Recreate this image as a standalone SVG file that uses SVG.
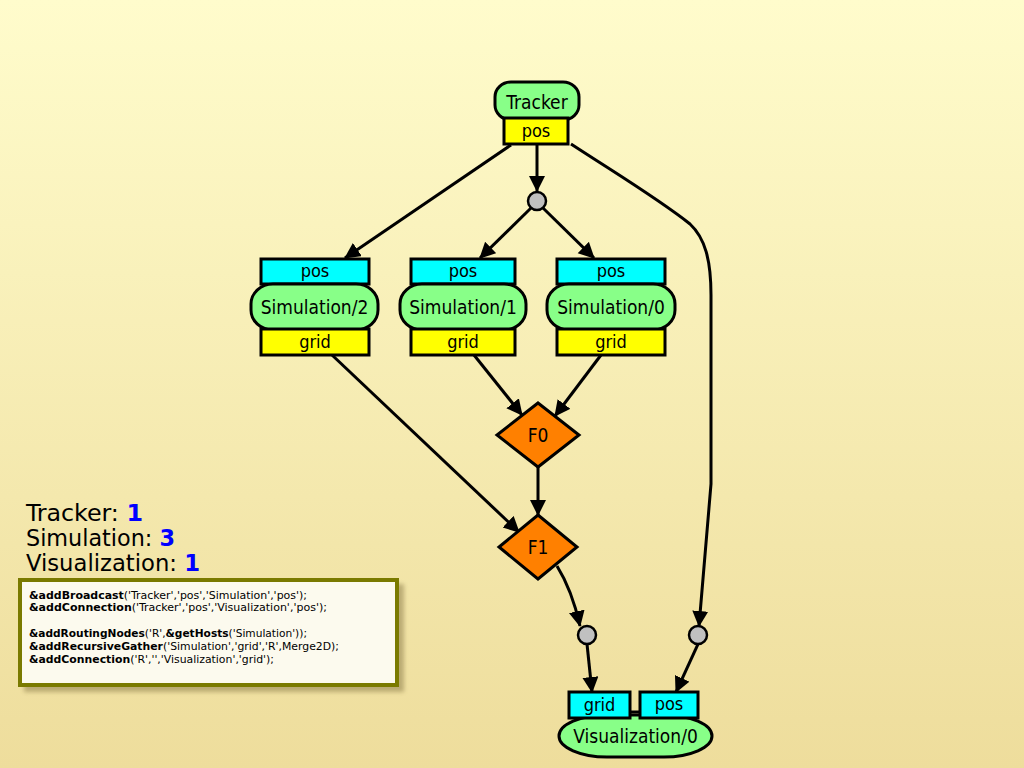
<svg xmlns="http://www.w3.org/2000/svg" width="1024" height="768" viewBox="0 0 1024 768">
<defs>
<linearGradient id="bg" x1="0" y1="0" x2="0" y2="1">
<stop offset="0" stop-color="#fffccc"/>
<stop offset="1" stop-color="#eedd9c"/>
</linearGradient>
<marker id="arr" markerUnits="userSpaceOnUse" markerWidth="18" markerHeight="18" refX="15" refY="8" orient="auto">
<path d="M0,0 L16,8 L0,16 z" fill="#000"/>
</marker>
<filter id="sh" x="-10%" y="-10%" width="120%" height="130%">
<feGaussianBlur stdDeviation="2"/>
</filter>
</defs>
<style>
.t{font-family:"DejaVu Sans Condensed","DejaVu Sans",sans-serif;fill:#000;}
.n{font-size:19px;text-anchor:middle;}
.p{font-size:18px;text-anchor:middle;}
.g{fill:#88ff88;stroke:#000;stroke-width:3;}
.y{fill:#ffff00;stroke:#000;stroke-width:3;}
.c{fill:#00ffff;stroke:#000;stroke-width:3;}
.o{fill:#ff8000;stroke:#000;stroke-width:3;}
.r{fill:#c0c0c0;stroke:#000;stroke-width:2.5;}
.e{fill:none;stroke:#000;stroke-width:3;marker-end:url(#arr);}
.l{font-size:23px;}
.b{fill:#0000ff;font-weight:bold;}
.code{font-size:11px;}
.k{font-weight:bold;}
</style>
<rect x="0" y="0" width="1024" height="768" fill="url(#bg)"/>

<g id="connectors">
<path class="e" d="M511,145 L345,258"/>
<path class="e" d="M537,144 L537,191"/>
<path class="e" d="M531,208 L480,258"/>
<path class="e" d="M543,208 L594,258"/>
<path class="e" d="M571,144 C620,176 660,200 690,224 C705,238 711,260 711,295 L711,484 L699,626"/>
<path class="e" d="M332,355 L519,532"/>
<path class="e" d="M474,355 L522,415"/>
<path class="e" d="M601,355 L555,416"/>
<path class="e" d="M538,467 L538,515"/>
<path class="e" d="M557,566 Q572,590 580,626"/>
<path class="e" d="M587,644 L592,692"/>
<path class="e" d="M698,644 L676,692"/>
</g>

<g id="tracker">
<rect class="g" x="495" y="82" width="84" height="38" rx="16" ry="15"/>
<text class="t n" x="537" y="109">Tracker</text>
<rect class="y" x="504" y="118" width="64" height="26"/>
<text class="t p" x="536" y="137">pos</text>
</g>

<g id="hub0"><circle class="r" cx="537" cy="201" r="9"/></g>

<g id="sim2">
<rect class="c" x="261" y="259" width="108" height="25"/>
<text class="t p" x="315" y="277">pos</text>
<rect class="g" x="251" y="284" width="127" height="46" rx="22" ry="20"/>
<text class="t n" x="314.5" y="314">Simulation/2</text>
<rect class="y" x="261" y="329" width="108" height="26"/>
<text class="t p" x="315" y="348">grid</text>
</g>

<g id="sim1">
<rect class="c" x="411" y="259" width="104" height="25"/>
<text class="t p" x="463" y="277">pos</text>
<rect class="g" x="400" y="284" width="126" height="46" rx="22" ry="20"/>
<text class="t n" x="463" y="314">Simulation/1</text>
<rect class="y" x="411" y="329" width="104" height="26"/>
<text class="t p" x="463" y="348">grid</text>
</g>

<g id="sim0">
<rect class="c" x="557" y="259" width="108" height="25"/>
<text class="t p" x="611" y="277">pos</text>
<rect class="g" x="547" y="284" width="128" height="46" rx="22" ry="20"/>
<text class="t n" x="611" y="314">Simulation/0</text>
<rect class="y" x="557" y="329" width="108" height="26"/>
<text class="t p" x="611" y="348">grid</text>
</g>

<g id="F0">
<polygon class="o" points="538,403 579,435 538,467 497,435"/>
<text class="t n" x="538" y="442">F0</text>
</g>

<g id="F1">
<polygon class="o" points="538,515 577,547 538,579 499,547"/>
<text class="t n" x="538" y="554">F1</text>
</g>

<g id="hub1"><circle class="r" cx="587" cy="635" r="9"/></g>
<g id="hub2"><circle class="r" cx="698" cy="635" r="9"/></g>

<g id="visualization">
<line x1="630" y1="712" x2="640" y2="712" stroke="#000" stroke-width="3"/>
<rect class="g" x="559" y="715" width="153" height="42" rx="48" ry="21"/>
<text class="t n" x="635.5" y="743">Visualization/0</text>
<rect class="c" x="569" y="692" width="61" height="26"/>
<text class="t p" x="599.5" y="711">grid</text>
<rect class="c" x="640" y="692" width="58" height="26"/>
<text class="t p" x="669" y="710">pos</text>
</g>

<g id="legend">
<text class="t l" x="26" y="521" textLength="117" lengthAdjust="spacingAndGlyphs">Tracker: <tspan class="b">1</tspan></text>
<text class="t l" x="26" y="546" textLength="149" lengthAdjust="spacingAndGlyphs">Simulation: <tspan class="b">3</tspan></text>
<text class="t l" x="26" y="571" textLength="174" lengthAdjust="spacingAndGlyphs">Visualization: <tspan class="b">1</tspan></text>
</g>

<g id="code">
<rect x="24" y="584" width="380" height="108" fill="#7a6a3a" opacity="0.45" filter="url(#sh)"/>
<rect x="20" y="580" width="377" height="105" fill="#fcfaee" stroke="#7a7a00" stroke-width="4"/>
<text class="t code" x="29" y="599" textLength="278" lengthAdjust="spacingAndGlyphs"><tspan class="k">&amp;addBroadcast</tspan>('Tracker','pos','Simulation','pos');</text>
<text class="t code" x="29" y="611" textLength="298" lengthAdjust="spacingAndGlyphs"><tspan class="k">&amp;addConnection</tspan>('Tracker','pos','Visualization','pos');</text>
<text class="t code" x="29" y="637" textLength="278" lengthAdjust="spacingAndGlyphs"><tspan class="k">&amp;addRoutingNodes</tspan>('R',<tspan class="k">&amp;getHosts</tspan>('Simulation'));</text>
<text class="t code" x="29" y="650" textLength="310" lengthAdjust="spacingAndGlyphs"><tspan class="k">&amp;addRecursiveGather</tspan>('Simulation','grid','R',Merge2D);</text>
<text class="t code" x="29" y="663" textLength="245" lengthAdjust="spacingAndGlyphs"><tspan class="k">&amp;addConnection</tspan>('R','','Visualization','grid');</text>
</g>
</svg>
